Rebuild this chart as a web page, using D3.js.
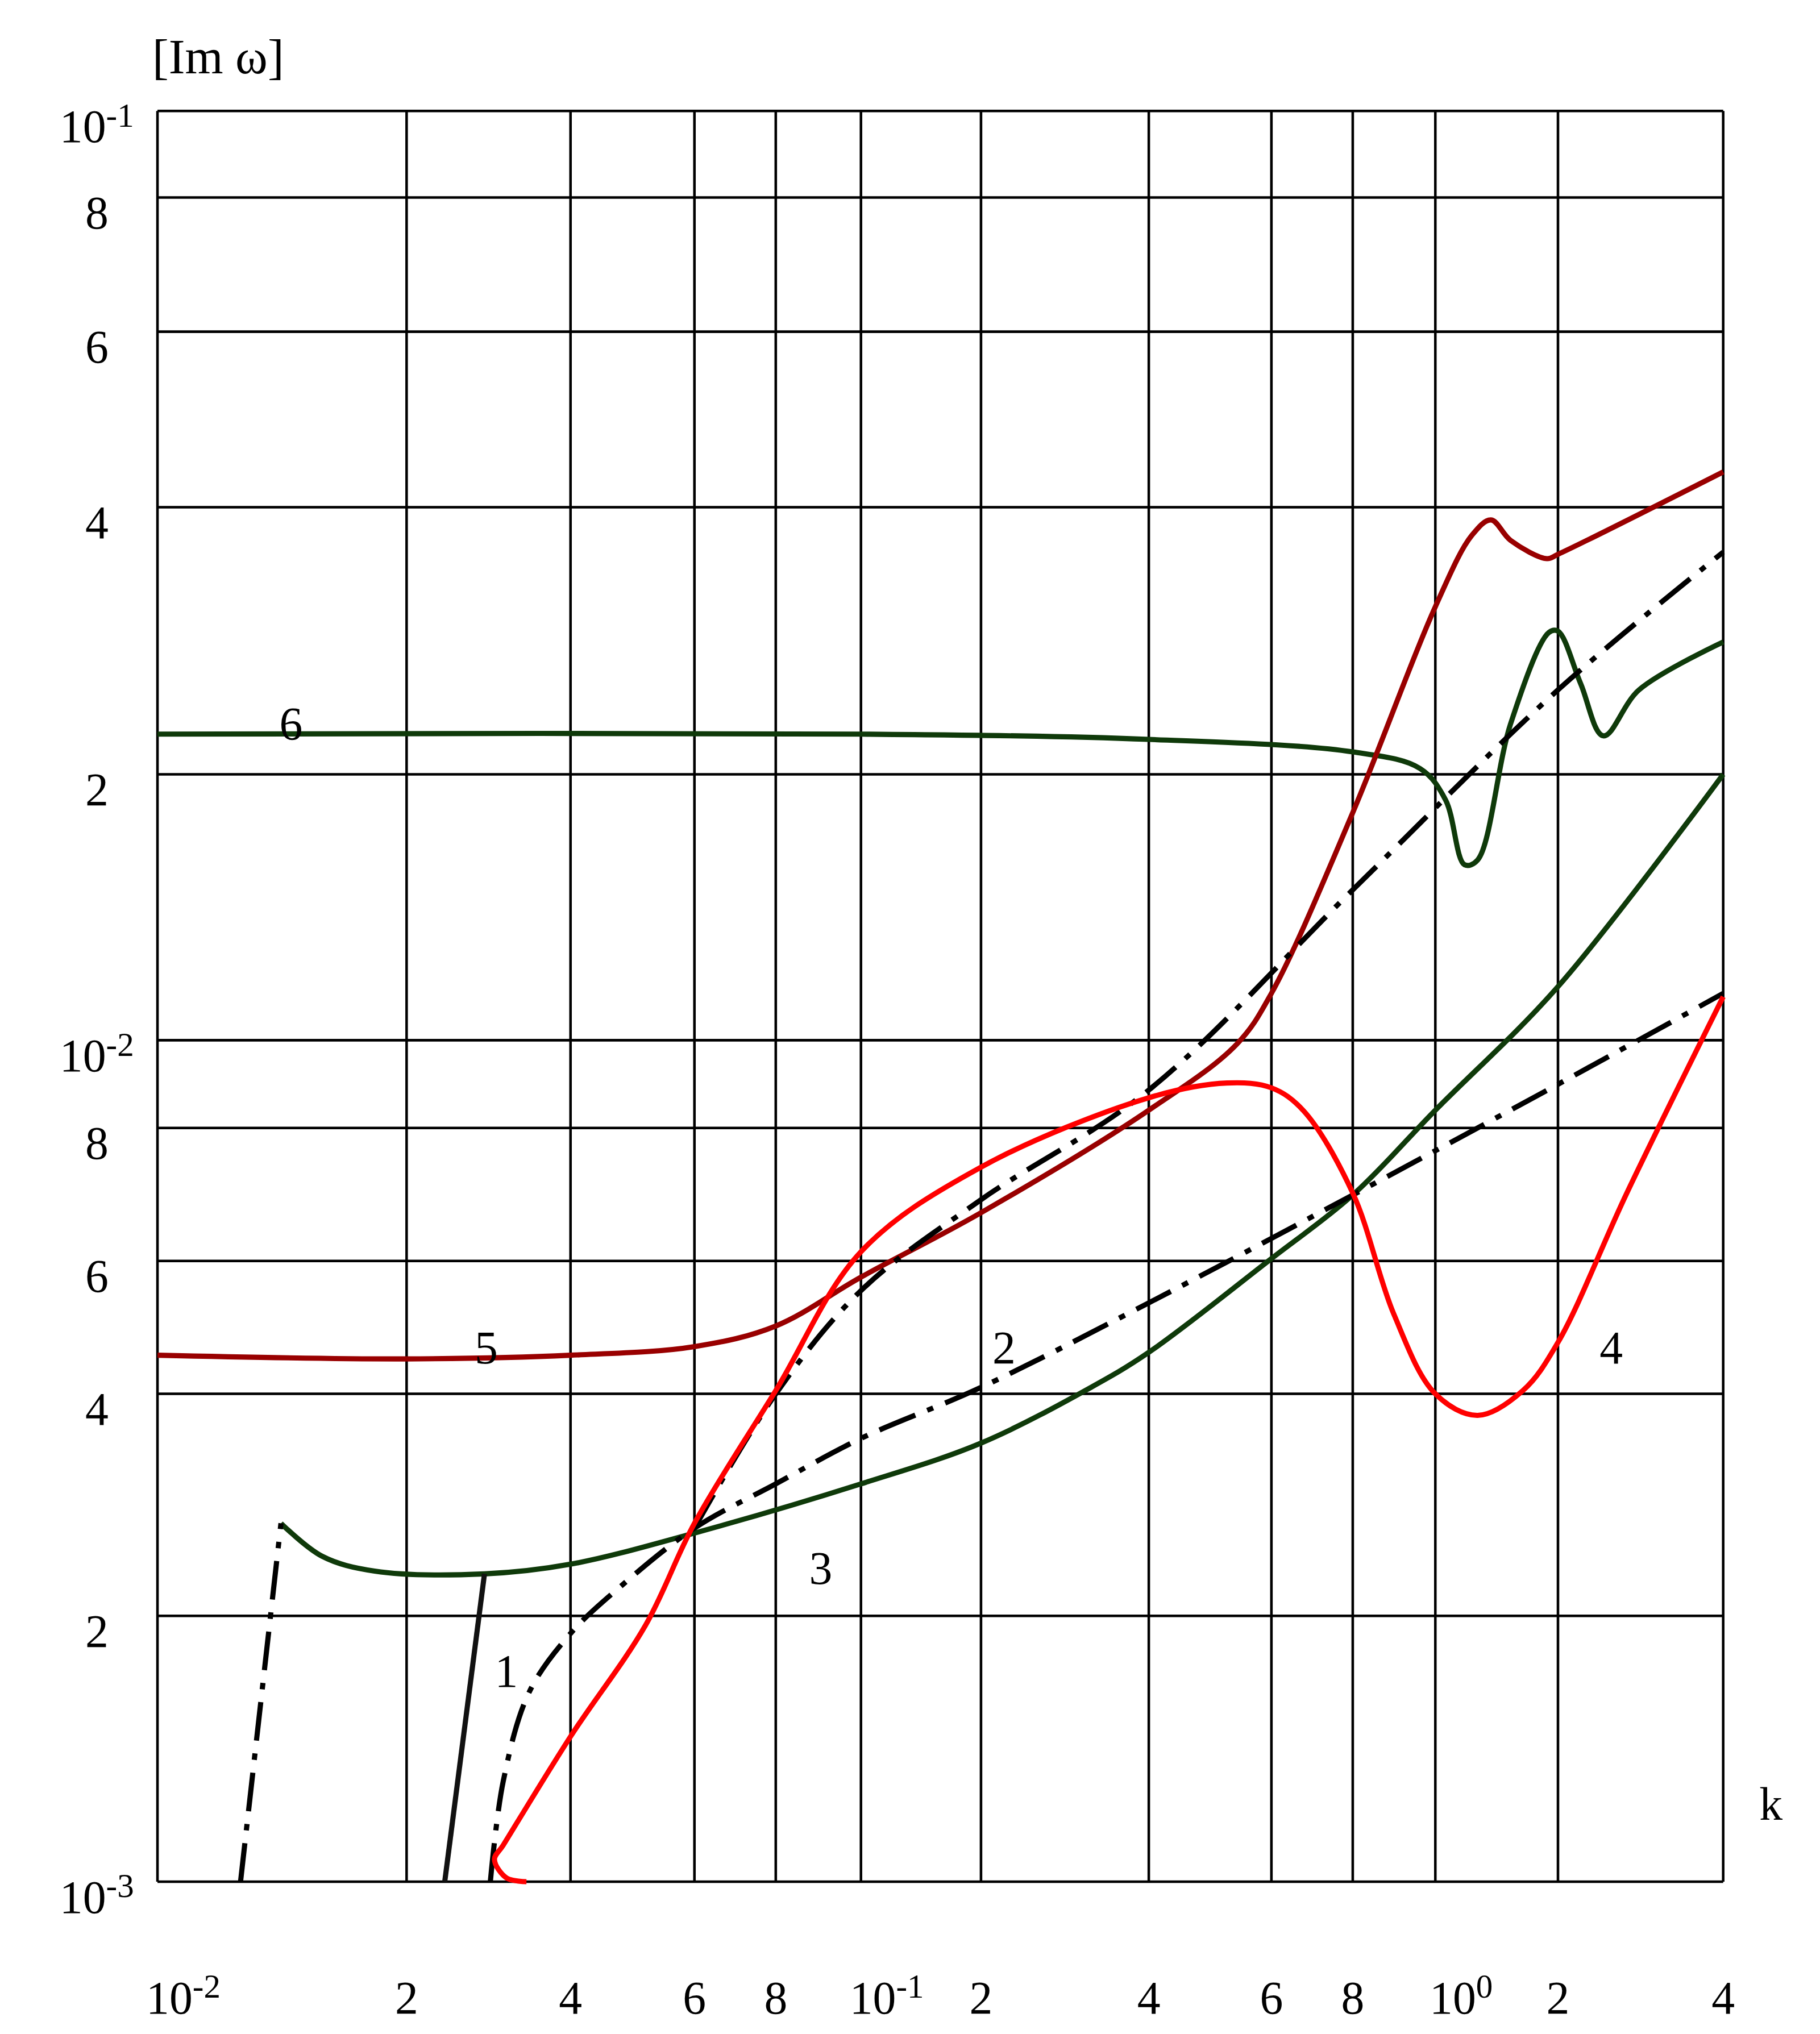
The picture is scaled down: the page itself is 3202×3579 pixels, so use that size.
<!DOCTYPE html>
<html><head><meta charset="utf-8">
<script src="https://cdn.jsdelivr.net/npm/d3@7"></script>
<style>body{margin:0;background:#fff}text{font-family:"Liberation Serif","Times New Roman",serif}</style>
</head><body><svg id="chart"></svg>
<script>
// grid ticks (k axis and Im w axis) as printed on the hand-drawn log paper
var xTicks = [0.01,0.02,0.04,0.06,0.08,0.1,0.2,0.4,0.6,0.8,1,2,4];
var xTickLabels = ["10-2","2","4","6","8","10-1","2","4","6","8","100","2","4"];
var yTicks = [0.1,0.08,0.06,0.04,0.02,0.01,0.008,0.006,0.004,0.002,0.001];
var yTickLabels = ["10-1","8","6","4","2","10-2","8","6","4","2","10-3"];

var curve6 = [[0.01,0.0222],[0.1,0.0222],[0.4,0.0219],[0.8,0.0212],[0.96,0.0203],[1.06,0.0187],[1.18,0.0158],[1.27,0.016],[1.53,0.0228],[1.9,0.0289],[2,0.029],[2.2,0.0253],[2.42,0.0221],[2.81,0.0249],[4,0.0282]];
var curve5 = [[0.01,0.0045],[0.02,0.00445],[0.04,0.0045],[0.06,0.00462],[0.08,0.00492],[0.1,0.00571],[0.2,0.00666],[0.4,0.00837],[0.535,0.0099],[0.6,0.0113],[0.8,0.0181],[1,0.0309],[1.23,0.0372],[1.37,0.0387],[1.53,0.0367],[1.88,0.035],[2,0.0354],[4,0.0434]];
var curve4 = [[0.0332,0.001],[0.0305,0.00101],[0.029,0.00106],[0.0301,0.0011],[0.04,0.00146],[0.0511,0.00195],[0.06,0.00267],[0.08,0.00404],[0.1,0.00612],[0.2,0.00735],[0.4,0.00864],[0.518,0.00897],[0.6,0.00886],[0.671,0.00837],[0.8,0.00695],[0.894,0.0051],[1,0.004],[1.27,0.00374],[1.64,0.00404],[2,0.00468],[2.67,0.00695],[4,0.0112]];
var curve3 = [[0.0141,0.00267],[0.0158,0.00241],[0.0183,0.0023],[0.0278,0.00228],[0.04,0.00235],[0.06,0.00259],[0.1,0.00302],[0.2,0.00343],[0.315,0.00408],[0.4,0.00454],[0.6,0.00603],[0.8,0.00692],[1,0.00837],[2,0.0115],[4,0.02]];
var curve1 = [[0.0235,0.001],[0.0278,0.00228]];
var curve3start = [[0.0126,0.001],[0.0141,0.00267]];
var curve2low = [[0.0285,0.001],[0.0301,0.0013],[0.0336,0.00164],[0.04,0.00191],[0.0468,0.00218],[0.06,0.00263],[0.08,0.00302],[0.1,0.00348],[0.2,0.00408],[0.4,0.00528],[0.8,0.00692],[2,0.00894],[4,0.0113]];
var curve2up = [[0.06,0.00263],[0.08,0.004],[0.1,0.00548],[0.2,0.00685],[0.4,0.00881],[0.8,0.0148],[2,0.0249],[4,0.0356]];
var curveLabels = [["6",0.0145,0.0228],["5",0.028,0.0046],["2",0.22,0.0046],["4",2.5,0.0046],["3",0.09,0.00232],["1",0.0305,0.00173]];

var S = 3202/1410;
var svg = d3.select("#chart").attr("width",3202).attr("height",3579);
var g = svg.append("g").attr("transform","scale("+S+")");

// piecewise log scales fitted to the printed grid
var x = d3.scaleLinear().domain(xTicks.map(Math.log10))
  .range([122,315,442,538,601,667,760,890,985,1048,1112,1207,1335]);
var y = d3.scaleLinear().domain(yTicks.map(Math.log10))
  .range([86,153,257,393,600,806,874,977,1080,1252,1458]);
var X = function(v){return x(Math.log10(v));};
var Y = function(v){return y(Math.log10(v));};

g.selectAll(".vg").data(xTicks).enter().append("line")
  .attr("x1",X).attr("x2",X).attr("y1",Y(0.1)).attr("y2",Y(0.001))
  .style("stroke","#000").style("stroke-width",2);
g.selectAll(".hg").data(yTicks).enter().append("line")
  .attr("y1",Y).attr("y2",Y).attr("x1",X(0.01)).attr("x2",X(4))
  .style("stroke","#000").style("stroke-width",2);

function tickText(sel, lab){
  var m = lab.match(/^10(-?\d)$/);
  if(m){ sel.append("tspan").text("10"); sel.append("tspan").attr("dy",-12).style("font-size","26px").text(m[1]); }
  else sel.text(lab);
}
yTicks.forEach(function(v,i){
  var t = g.append("text").attr("x",75).attr("y",Y(v)+24).attr("text-anchor","middle").style("font-size","36px");
  tickText(t,yTickLabels[i]);
});
xTicks.forEach(function(v,i){
  var t = g.append("text").attr("x",X(v)+(i==0||i==5||i==10?20:0)).attr("y",1560).attr("text-anchor","middle").style("font-size","36px");
  tickText(t,xTickLabels[i]);
});
g.append("text").attr("x",118).attr("y",57).style("font-size","38px").text("[Im \u03c9]");
g.append("text").attr("x",1372).attr("y",1410).attr("text-anchor","middle").style("font-size","36px").text("k");

var line = d3.line().x(function(d){return X(d[0]);}).y(function(d){return Y(d[1]);}).curve(d3.curveCatmullRom.alpha(0.5));
function draw(data,color,dash){
  g.append("path").attr("d",line(data)).style("fill","none").style("stroke",color)
   .style("stroke-width",4).style("stroke-dasharray",dash||null);
}
var dd = "30,10,5,10";
draw(curve6,"#0f3a0a");
draw(curve3,"#0f3a0a");
draw(curve5,"#990000");
draw(curve2low,"#000",dd);
draw(curve2up,"#000",dd);
draw(curve3start,"#000",dd);
draw(curve1,"#111");
draw(curve4,"#ff0000");

curveLabels.forEach(function(c){
  var t = g.append("text").attr("x",X(c[1])).attr("y",Y(c[2])+12).attr("text-anchor","middle").style("font-size","36px").text(c[0]);
});
</script></body></html>
